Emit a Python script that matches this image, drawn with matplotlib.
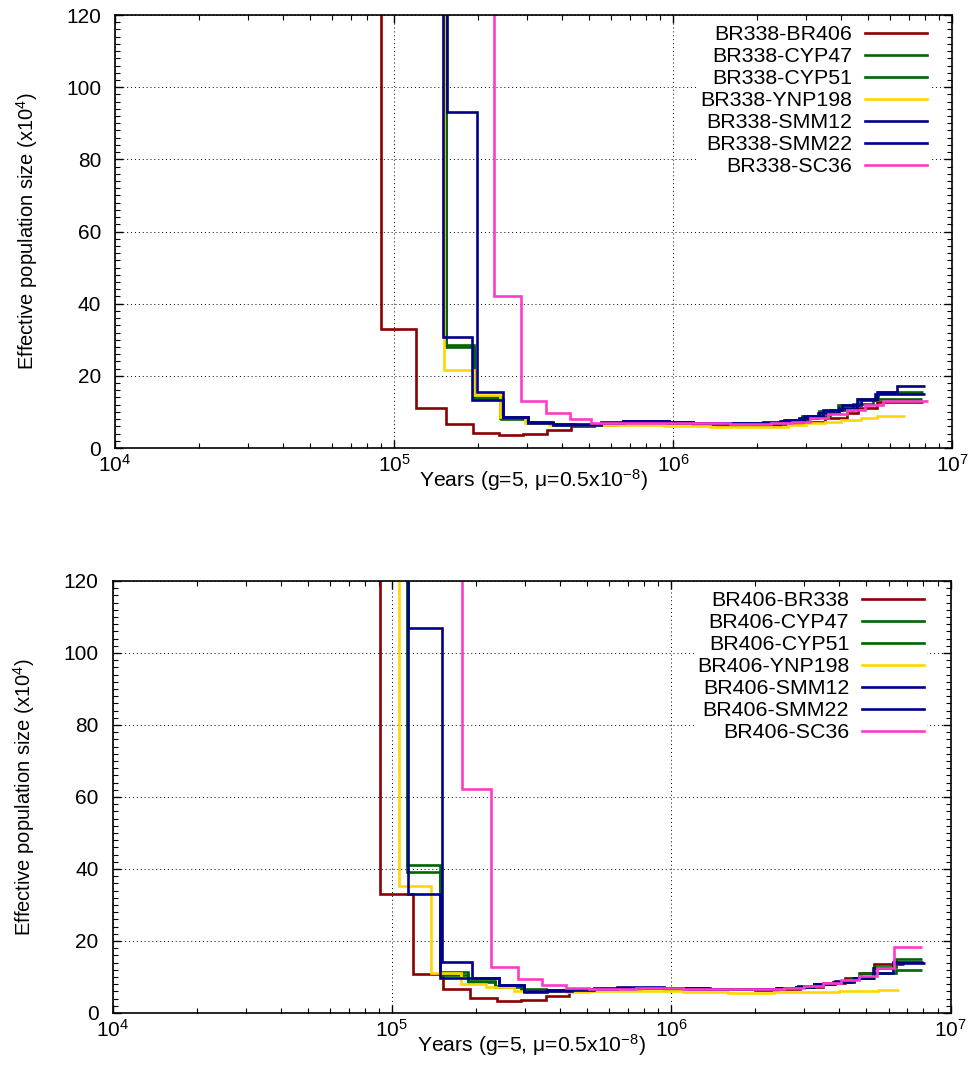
import matplotlib
matplotlib.use("Agg")
import matplotlib.pyplot as plt
from matplotlib.ticker import MultipleLocator, LogLocator

plt.rcParams["font.family"] = ["Liberation Sans", "DejaVu Sans"]
plt.rcParams["mathtext.fontset"] = "custom"
plt.rcParams["mathtext.rm"] = "Liberation Sans"
plt.rcParams["mathtext.it"] = "Liberation Sans:italic"
plt.rcParams["mathtext.bf"] = "Liberation Sans:bold"

# gnuplot-like line colours
DARK_RED = "#8b0000"
DARK_GREEN = "#006400"
GOLD = "#ffd700"
DARK_BLUE = "#00008b"
PINK = "#ff3cc8"

# PSMC step curves: t = interval edges (years), ne = Ne per interval (x10^4)
# --- BR338 pairs ---
br338_br406_t = [2.0e4, 9.0e4, 1.2e5, 1.53e5, 1.92e5, 2.38e5, 2.9e5, 3.54e5, 4.3e5, 5.2e5,
                 6.3e5, 7.6e5, 9.2e5, 1.12e6, 1.36e6, 1.65e6, 2.0e6, 2.42e6, 2.9e6, 3.5e6,
                 4.2e6, 4.6e6, 5.4e6, 7.9e6]
br338_br406_ne = [400, 33.0, 11.0, 6.7, 4.25, 3.6, 3.9, 5.0, 6.0, 6.5, 6.8, 7.0, 7.0, 6.9,
                  6.7, 6.5, 6.4, 6.6, 7.2, 8.4, 9.8, 11.2, 12.8]

br338_cyp47_t = [2.0e4, 1.53e5, 1.94e5, 2.39e5, 2.98e5, 3.65e5, 4.45e5, 5.4e5, 6.5e5, 7.9e5,
                 9.6e5, 1.17e6, 1.42e6, 1.72e6, 2.08e6, 2.45e6, 2.9e6, 3.35e6, 3.9e6, 4.6e6,
                 5.43e6, 7.9e6]
br338_cyp47_ne = [400, 28.0, 14.2, 8.4, 7.3, 6.6, 6.4, 6.7, 7.0, 7.1, 6.9, 6.7, 6.6, 6.5,
                  6.8, 7.6, 8.8, 10.2, 12.0, 13.6, 15.4]

br338_cyp51_t = [2.0e4, 1.53e5, 1.94e5, 2.42e5, 3.0e5, 3.7e5, 4.5e5, 5.5e5, 6.6e5, 8.0e5,
                 9.7e5, 1.18e6, 1.44e6, 1.75e6, 2.12e6, 2.55e6, 3.05e6, 3.65e6, 4.4e6, 5.2e6,
                 7.8e6]
br338_cyp51_ne = [400, 28.6, 13.9, 8.0, 7.0, 6.5, 6.4, 6.6, 6.9, 7.0, 6.8, 6.6, 6.5, 6.5,
                  6.9, 7.7, 8.9, 10.5, 12.2, 13.6]

br338_ynp198_t = [2.0e4, 1.51e5, 1.93e5, 2.39e5, 2.95e5, 3.6e5, 4.4e5, 5.3e5, 6.4e5, 7.7e5,
                  9.3e5, 1.12e6, 1.36e6, 1.65e6, 1.9e6, 2.23e6, 2.58e6, 3.0e6, 3.5e6, 4.0e6,
                  4.7e6, 5.4e6, 6.8e6]
br338_ynp198_ne = [400, 21.5, 14.7, 8.6, 7.0, 6.4, 6.3, 6.4, 6.5, 6.4, 6.2, 6.0, 5.8, 5.7,
                   5.7, 5.9, 6.4, 6.85, 7.3, 7.8, 8.2, 8.9]

br338_smm12_t = [2.0e4, 1.50e5, 1.90e5, 2.46e5, 3.03e5, 3.7e5, 4.5e5, 5.5e5, 6.6e5, 8.0e5,
                 9.7e5, 1.18e6, 1.44e6, 1.75e6, 2.05e6, 2.42e6, 2.84e6, 3.32e6, 3.92e6, 4.55e6,
                 5.37e6, 6.33e6, 8.0e6]
br338_smm12_ne = [400, 30.8, 13.3, 8.7, 6.9, 6.3, 6.5, 7.0, 7.4, 7.6, 7.3, 7.0, 6.9, 6.8,
                  7.0, 7.6, 8.2, 9.6, 11.2, 13.5, 15.6, 17.2]

br338_smm22_t = [2.0e4, 1.545e5, 1.98e5, 2.46e5, 3.03e5, 3.7e5, 4.5e5, 5.5e5, 6.6e5, 8.0e5,
                 9.7e5, 1.18e6, 1.44e6, 1.75e6, 2.1e6, 2.5e6, 2.95e6, 3.45e6, 4.05e6, 4.7e6,
                 5.3e6, 8.0e6]
br338_smm22_ne = [400, 93.0, 15.6, 8.5, 7.2, 6.6, 6.7, 7.1, 7.5, 7.4, 7.1, 6.9, 6.8, 6.8,
                  7.2, 7.8, 8.9, 10.4, 11.9, 13.3, 14.9]

br338_sc36_t = [2.0e4, 2.28e5, 2.85e5, 3.52e5, 4.28e5, 5.1e5, 6.2e5, 7.5e5, 9.1e5, 1.1e6,
                1.33e6, 1.6e6, 1.93e6, 2.25e6, 2.66e6, 3.1e6, 3.6e6, 4.2e6, 4.88e6, 5.67e6,
                8.2e6]
br338_sc36_ne = [400, 42.2, 12.9, 9.6, 8.0, 7.0, 6.8, 6.9, 7.0, 7.0, 6.9, 6.7, 6.6, 6.85,
                 7.3, 8.2, 9.3, 10.6, 11.9, 12.9]

# --- BR406 pairs ---
br406_br338_t = [2.0e4, 9.1e4, 1.19e5, 1.53e5, 1.91e5, 2.38e5, 2.9e5, 3.55e5, 4.3e5, 5.2e5,
                 6.3e5, 7.6e5, 9.2e5, 1.12e6, 1.36e6, 1.65e6, 2.0e6, 2.42e6, 2.9e6, 3.5e6,
                 4.2e6, 4.8e6, 5.33e6, 6.83e6]
br406_br338_ne = [400, 33.0, 10.7, 6.6, 4.25, 3.4, 3.6, 4.7, 6.0, 6.5, 6.8, 7.0, 7.0, 6.9,
                  6.8, 6.6, 6.5, 6.6, 7.2, 8.3, 9.6, 11.2, 13.5]

br406_cyp47_t = [2.0e4, 1.13e5, 1.49e5, 1.88e5, 2.35e5, 2.9e5, 3.55e5, 4.35e5, 5.3e5, 6.4e5,
                 7.8e5, 9.4e5, 1.14e6, 1.38e6, 1.68e6, 2.03e6, 2.42e6, 2.8e6, 3.25e6, 3.8e6,
                 4.4e6, 4.7e6, 5.33e6, 6.38e6, 7.9e6]
br406_cyp47_ne = [400, 41.1, 11.5, 8.7, 7.5, 6.6, 6.4, 6.5, 6.7, 6.9, 7.0, 6.9, 6.8, 6.7,
                  6.6, 6.7, 6.9, 7.3, 8.0, 8.7, 9.6, 11.2, 12.9, 14.9]

br406_cyp51_t = [2.0e4, 1.13e5, 1.49e5, 1.88e5, 2.35e5, 2.9e5, 3.55e5, 4.35e5, 5.3e5, 6.4e5,
                 7.8e5, 9.4e5, 1.14e6, 1.38e6, 1.68e6, 2.03e6, 2.42e6, 2.8e6, 3.25e6, 3.8e6,
                 4.4e6, 5.33e6, 6.38e6, 7.9e6]
br406_cyp51_ne = [400, 39.1, 10.6, 9.0, 7.2, 6.5, 6.3, 6.5, 6.7, 6.8, 6.9, 6.8, 6.7, 6.6,
                  6.6, 6.7, 6.9, 7.3, 8.0, 8.7, 9.6, 11.2, 11.9]

br406_ynp198_t = [2.0e4, 1.06e5, 1.38e5, 1.77e5, 2.17e5, 2.73e5, 3.4e5, 4.2e5, 5.1e5, 6.2e5,
                  7.5e5, 9.1e5, 1.1e6, 1.33e6, 1.6e6, 1.93e6, 2.33e6, 2.8e6, 3.35e6, 4.0e6,
                  4.7e6, 5.5e6, 6.56e6]
br406_ynp198_ne = [400, 35.4, 11.2, 8.05, 7.1, 6.2, 6.0, 5.9, 6.0, 6.1, 6.1, 6.0, 5.8, 5.7,
                   5.6, 5.6, 5.7, 5.8, 5.9, 6.1, 6.2, 6.4]

br406_smm12_t = [2.0e4, 1.14e5, 1.51e5, 1.94e5, 2.42e5, 2.97e5, 3.6e5, 4.4e5, 5.3e5, 6.4e5,
                 7.8e5, 9.4e5, 1.14e6, 1.38e6, 1.68e6, 2.0e6, 2.37e6, 2.8e6, 3.25e6, 3.83e6,
                 4.5e6, 5.26e6, 6.2e6, 8.1e6]
br406_smm12_ne = [400, 107.0, 14.3, 9.6, 7.8, 5.9, 6.3, 6.6, 6.9, 7.1, 7.1, 7.0, 6.9, 6.8,
                  6.8, 6.8, 6.85, 7.3, 8.0, 8.7, 9.6, 11.0, 13.8]

br406_smm22_t = [2.0e4, 1.14e5, 1.49e5, 2.42e5, 2.97e5, 3.6e5, 4.4e5, 5.3e5, 6.4e5, 7.8e5,
                 9.4e5, 1.14e6, 1.38e6, 1.68e6, 2.0e6, 2.4e6, 2.85e6, 3.3e6, 3.85e6, 4.5e6,
                 5.3e6, 6.25e6, 8.0e6]
br406_smm22_ne = [400, 33.0, 9.6, 7.8, 6.0, 6.2, 6.5, 6.8, 7.0, 7.0, 6.9, 6.8, 6.7, 6.7,
                  6.8, 7.0, 7.5, 8.1, 8.8, 9.8, 12.6, 14.2]

br406_sc36_t = [2.0e4, 1.78e5, 2.27e5, 2.83e5, 3.45e5, 4.2e5, 5.1e5, 6.2e5, 7.5e5, 9.1e5,
                1.1e6, 1.33e6, 1.6e6, 1.93e6, 2.2e6, 2.53e6, 3.0e6, 3.5e6, 4.05e6, 4.7e6,
                5.45e6, 6.3e6, 7.9e6]
br406_sc36_ne = [400, 62.3, 12.9, 9.4, 7.8, 6.85, 6.7, 6.8, 6.9, 6.9, 6.8, 6.7, 6.6, 6.6,
                 6.6, 6.85, 7.5, 8.2, 9.2, 10.3, 12.4, 18.4]

pair_names = ["BR406", "CYP47", "CYP51", "YNP198", "SMM12", "SMM22", "SC36"]
pair_colors = [DARK_RED, DARK_GREEN, DARK_GREEN, GOLD, DARK_BLUE, DARK_BLUE, PINK]


def draw_panel(ax, series, legend_anchor):
    # step curves, one per pair
    for label, t, ne, color in series:
        ax.stairs(ne, t, baseline=None, color=color, linewidth=1.9, label=label, zorder=2)

    ax.set_xscale("log")
    ax.set_xlim(1e4, 1e7)
    ax.set_ylim(0, 120)
    ax.yaxis.set_major_locator(MultipleLocator(20))
    ax.yaxis.set_minor_locator(MultipleLocator(2))
    ax.xaxis.set_major_locator(LogLocator(base=10))
    ax.xaxis.set_minor_locator(LogLocator(base=10, subs=range(2, 10)))

    # gnuplot style: ticks inside on every side, dotted grid on majors
    ax.tick_params(which="both", direction="in", top=True, right=True, labelsize=15)
    ax.tick_params(which="major", length=6, width=1)
    ax.tick_params(which="minor", length=3.5, width=0.8)
    ax.tick_params(axis="y", pad=10)
    ax.tick_params(axis="x", pad=4)
    ax.grid(True, which="major", color="black", linestyle=(0, (1, 3)), linewidth=0.7)
    for sp in ax.spines.values():
        sp.set_linewidth(1.2)

    ax.set_xlabel("Years (g=5, μ=0.5x$10^{-8}$)", fontsize=15.2)
    ax.set_ylabel("Effective population size (x$10^{4}$)", fontsize=14.5)
    ax.xaxis.set_label_coords(0.5, -0.045)
    ax.yaxis.set_label_coords(-0.09, 0.5)

    # opaque key, kept clear of the top tick marks
    leg = ax.legend(loc="upper right", bbox_to_anchor=legend_anchor, borderaxespad=0,
                    frameon=True, fancybox=False, edgecolor="none", facecolor="white",
                    framealpha=1, fontsize=15.4, handlelength=2.9, handletextpad=0.6,
                    labelspacing=0.14, borderpad=0.15, markerfirst=False)
    # right-justify the key entries
    for column in leg._legend_handle_box.get_children():
        column.align = "right"


if __name__ == "__main__":
    top_series = list(zip(
        ["BR338-" + n for n in pair_names],
        [br338_br406_t, br338_cyp47_t, br338_cyp51_t, br338_ynp198_t,
         br338_smm12_t, br338_smm22_t, br338_sc36_t],
        [br338_br406_ne, br338_cyp47_ne, br338_cyp51_ne, br338_ynp198_ne,
         br338_smm12_ne, br338_smm22_ne, br338_sc36_ne],
        pair_colors))
    bottom_series = list(zip(
        ["BR406-BR338"] + ["BR406-" + n for n in pair_names[1:]],
        [br406_br338_t, br406_cyp47_t, br406_cyp51_t, br406_ynp198_t,
         br406_smm12_t, br406_smm22_t, br406_sc36_t],
        [br406_br338_ne, br406_cyp47_ne, br406_cyp51_ne, br406_ynp198_ne,
         br406_smm12_ne, br406_smm22_ne, br406_sc36_ne],
        pair_colors))

    fig = plt.figure(figsize=(9.71, 10.86), dpi=100)
    ax_top = fig.add_axes([115 / 971, 1 - 448 / 1086, 837 / 971, 433 / 1086])
    ax_bot = fig.add_axes([112.5 / 971, 1 - 1013 / 1086, 838 / 971, 432 / 1086])

    draw_panel(ax_top, top_series, (0.9737, 0.984))
    draw_panel(ax_bot, bottom_series, (0.9723, 0.984))

    fig.savefig("out.png", dpi=100)
